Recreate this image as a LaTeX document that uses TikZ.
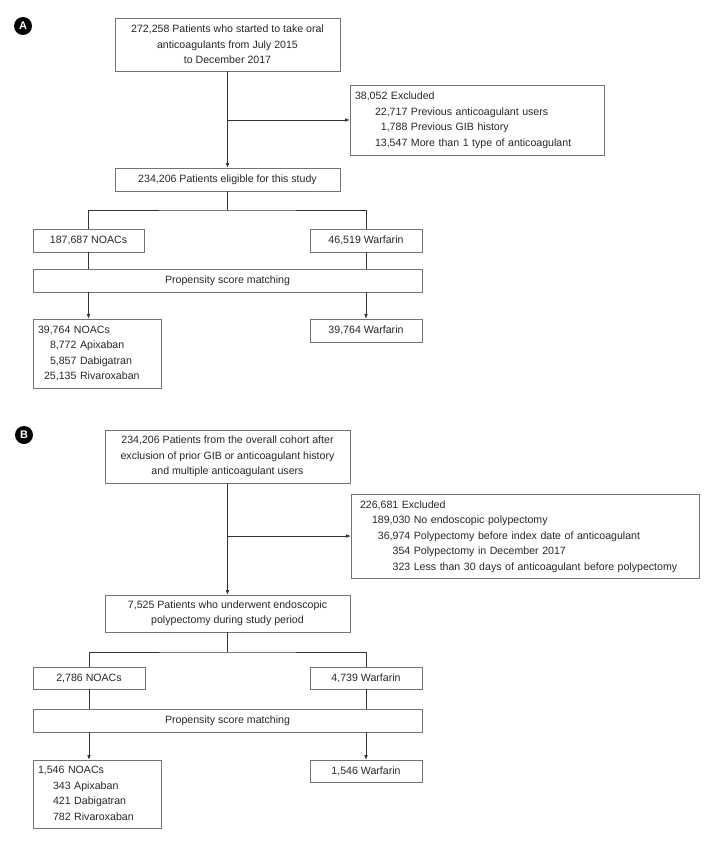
\documentclass[tikz,border=0pt]{standalone}
\usepackage{fontspec}
\setmainfont{Liberation Sans}
\usepackage{tikz}
\usetikzlibrary{arrows.meta}

\begin{document}
\begin{tikzpicture}[x=1pt,y=-1pt,
    box/.style={draw=black!55, line width=0.6pt, inner sep=0pt, align=center,
      text=black!85, font=\fontsize{10.6}{15.5}\selectfont},
    listbox/.style={box, align=left, inner xsep=5pt},
    link/.style={draw=black!80, line width=0.6pt},
    arr/.style={link, -{Latex[length=4.5pt,width=3.6pt]}},
    panel/.style={circle, fill=black, text=white, inner sep=0pt, minimum size=18pt,
      font=\bfseries\fontsize{11}{11}\selectfont}]
  \useasboundingbox (0,0) rectangle (707,841);

  % panel A
  \node[panel] (labA) at (23,26) {A};
  \node[box, minimum width=225pt, minimum height=53pt] (startA) at (227.5,44.5)
    {272,258 Patients who started to take oral\\anticoagulants from July 2015\\to December 2017};
  \node[listbox, minimum width=254pt, minimum height=70pt, text width=244pt] (exclA) at (477,120)
    {\begin{tabular}{@{}r@{ }l}
      \multicolumn{2}{@{}l}{38,052 Excluded}\\
      \hspace{20pt}22,717 & Previous anticoagulant users\\
      1,788 & Previous GIB history\\
      13,547 & More than 1 type of anticoagulant
    \end{tabular}};
  \node[box, minimum width=225pt, minimum height=23pt] (eligA) at (227.5,179.5)
    {234,206 Patients eligible for this study};
  \node[box, minimum width=111pt, minimum height=23pt] (noacA) at (88.5,240.5) {187,687 NOACs};
  \node[box, minimum width=112pt, minimum height=23pt] (warfA) at (366,240.5) {46,519 Warfarin};
  \node[box, minimum width=389pt, minimum height=23pt] (psmA) at (227.5,280.5) {Propensity score matching};
  \node[listbox, minimum width=128pt, minimum height=69pt, text width=118pt] (noacMA) at (97,353.5)
    {\begin{tabular}{@{}r@{ }l}
      \multicolumn{2}{@{}l}{39,764 NOACs}\\
      \hspace{12pt}8,772 & Apixaban\\
      5,857 & Dabigatran\\
      25,135 & Rivaroxaban
    \end{tabular}};
  \node[box, minimum width=112pt, minimum height=23pt] (warfMA) at (366,330.5) {39,764 Warfarin};
  \coordinate (splitA) at (227.5,210);

  \draw[arr] (startA.south) -- (eligA.north);
  \draw[arr] (startA.south |- exclA.west) -- (exclA.west);
  \draw[link] (eligA.south) -- (splitA);
  \draw[link] (noacA.north) |- (splitA) -| (warfA.north);
  \draw[link] (noacA.south) -- (psmA.north -| noacA.south);
  \draw[link] (warfA.south) -- (psmA.north -| warfA.south);
  \draw[arr] (psmA.south -| noacA.south) -- (noacMA.north -| noacA.south);
  \draw[arr] (psmA.south -| warfA.south) -- (warfMA.north);

  % panel B
  \node[panel] (labB) at (24,435) {B};
  \node[box, minimum width=245pt, minimum height=53pt] (startB) at (227.5,456.5)
    {234,206 Patients from the overall cohort after\\exclusion of prior GIB or anticoagulant history\\and multiple anticoagulant users};
  \node[listbox, minimum width=348pt, minimum height=84pt, text width=330pt, inner xsep=9pt] (exclB) at (525,536)
    {\begin{tabular}{@{}r@{ }l}
      \multicolumn{2}{@{}l}{226,681 Excluded}\\
      \hspace{12pt}189,030 & No endoscopic polypectomy\\
      36,974 & Polypectomy before index date of anticoagulant\\
      354 & Polypectomy in December 2017\\
      323 & Less than 30 days of anticoagulant before polypectomy
    \end{tabular}};
  \node[box, minimum width=245pt, minimum height=37pt] (studyB) at (227.5,613.5)
    {7,525 Patients who underwent endoscopic\\polypectomy during study period};
  \node[box, minimum width=112pt, minimum height=22pt] (noacB) at (89,678) {2,786 NOACs};
  \node[box, minimum width=112pt, minimum height=22pt] (warfB) at (366,678) {4,739 Warfarin};
  \node[box, minimum width=389pt, minimum height=23pt] (psmB) at (227.5,720.5) {Propensity score matching};
  \node[listbox, minimum width=128pt, minimum height=68pt, text width=118pt] (noacMB) at (97,794)
    {\begin{tabular}{@{}r@{ }l}
      \multicolumn{2}{@{}l}{1,546 NOACs}\\
      \hspace{15pt}343 & Apixaban\\
      421 & Dabigatran\\
      782 & Rivaroxaban
    \end{tabular}};
  \node[box, minimum width=112pt, minimum height=22pt] (warfMB) at (366,771) {1,546 Warfarin};
  \coordinate (splitB) at (227.5,652);

  \draw[arr] (startB.south) -- (studyB.north);
  \draw[arr] (startB.south |- exclB.west) -- (exclB.west);
  \draw[link] (studyB.south) -- (splitB);
  \draw[link] (noacB.north) |- (splitB) -| (warfB.north);
  \draw[link] (noacB.south) -- (psmB.north -| noacB.south);
  \draw[link] (warfB.south) -- (psmB.north -| warfB.south);
  \draw[arr] (psmB.south -| noacB.south) -- (noacMB.north -| noacB.south);
  \draw[arr] (psmB.south -| warfB.south) -- (warfMB.north);
\end{tikzpicture}
\end{document}
